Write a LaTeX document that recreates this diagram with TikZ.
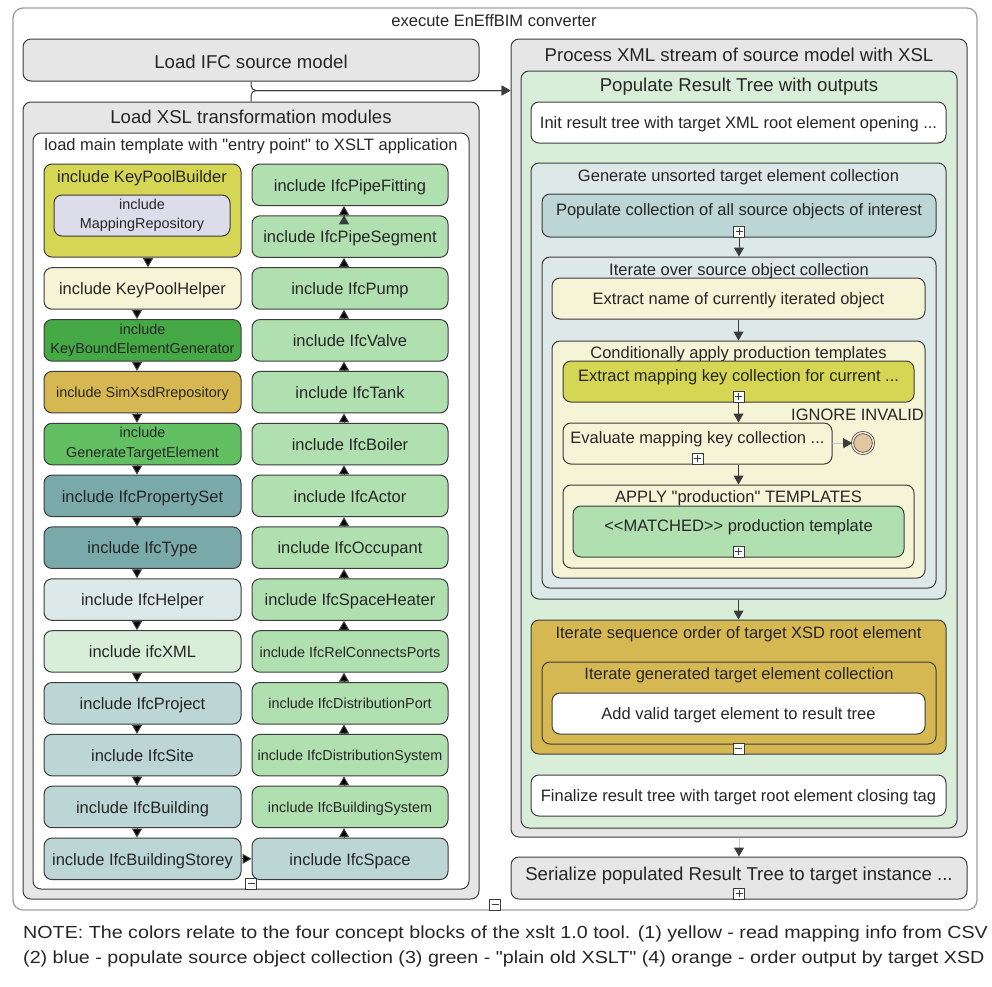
\documentclass[tikz,border=0pt]{standalone}
\usepackage{fontspec}
\setmainfont{Liberation Sans}[Ligatures=TeXOff]
\newfontfamily\notefont{Liberation Sans}[Ligatures=TeXOff, FakeStretch=1.125]
\usepackage{xcolor}
\usepackage{tikz}
\usetikzlibrary{arrows.meta}

\definecolor{boxline}{HTML}{3C3C3C}
\definecolor{outline}{HTML}{A0A0A0}
\definecolor{txt}{HTML}{262626}
\definecolor{greyfill}{HTML}{E6E6E6}
\definecolor{palegreen}{HTML}{D9EED9}
\definecolor{palebluegrey}{HTML}{DDE8E8}
\definecolor{bluegrey}{HTML}{BCD5D5}
\definecolor{tealbox}{HTML}{7AA9A9}
\definecolor{cream}{HTML}{F5F4D7}
\definecolor{mapyellow}{HTML}{D6D655}
\definecolor{lightgreen}{HTML}{B0DFB0}
\definecolor{darkgreen}{HTML}{45A945}
\definecolor{midgreen}{HTML}{62C063}
\definecolor{gold}{HTML}{D6B852}
\definecolor{lavender}{HTML}{DCDCEA}
\definecolor{endfill}{HTML}{E3C6A2}

\newcommand{\fbig}{\fontsize{18.6pt}{21pt}\selectfont}
\newcommand{\fmid}{\fontsize{16.5pt}{19pt}\selectfont}
\newcommand{\fsmall}{\fontsize{14.4pt}{19.5pt}\selectfont}
\newcommand{\fnote}{\notefont\fontsize{17.5pt}{20pt}\selectfont}

\begin{document}
\begin{tikzpicture}[x=1pt, y=-1pt]
\tikzstyle{box}=[draw=boxline, line width=1pt, rounded corners=8pt, inner sep=0pt, text=txt, align=center]
\tikzstyle{task}=[box, font=\fmid, text height=16pt, text depth=3.5pt]
\tikzstyle{plustask}=[box, font=\fmid, text height=12pt, text depth=11.2pt]
\tikzstyle{bigtask}=[box, font=\fbig, text height=21.3pt, text depth=4pt]
\tikzstyle{bigplustask}=[box, font=\fbig, text height=13.5pt, text depth=9.2pt]
\tikzstyle{smalltask}=[box, font=\fsmall, text height=14.3pt, text depth=3pt]
\tikzstyle{twoline}=[box, font=\fsmall]
\tikzstyle{title}=[inner sep=0pt, text=txt, font=\fmid, text height=12pt, text depth=3.5pt]
\tikzstyle{bigtitle}=[title, font=\fbig, text height=13.5pt, text depth=4pt]
\tikzstyle{leftcol}=[minimum width=197pt, minimum height=41.5pt]
\tikzstyle{rightcol}=[minimum width=196pt, minimum height=41.5pt]
\tikzstyle{flow}=[draw=boxline, line width=1pt, -{Triangle[width=10pt, length=9pt]}]
\tikzstyle{greyflow}=[draw=black!22, line width=1pt, -{Triangle[width=10pt, length=9pt, color=boxline]}]
\tikzstyle{plusbox}=[draw=boxline, fill=white, line width=0.8pt, minimum size=11pt, inner sep=0pt, anchor=south,
  path picture={\draw[line width=0.8pt] ([yshift=-2pt]path picture bounding box.north) -- ([yshift=2pt]path picture bounding box.south)
                ([xshift=2pt]path picture bounding box.west) -- ([xshift=-2pt]path picture bounding box.east);}]
\tikzstyle{minusbox}=[draw=boxline, fill=white, line width=0.8pt, minimum size=11pt, inner sep=0pt, anchor=south,
  path picture={\draw[line width=0.8pt] ([xshift=2pt]path picture bounding box.west) -- ([xshift=-2pt]path picture bounding box.east);}]
\tikzstyle{endevent}=[circle, draw=boxline, line width=0.7pt, double=endfill!45!white, double distance=1.5pt, fill=endfill, minimum size=21pt, inner sep=0pt]

\useasboundingbox (0,0) rectangle (992,986);

% outer process
\node[box, draw=outline, line width=1.3pt, rounded corners=10pt, fill=white, minimum width=964pt, minimum height=902pt] (conv) at (495,459) {};
\node[title] (convtitle) at (494,22.5) {execute EnEffBIM converter};

% left part
\node[bigtask, fill=greyfill, minimum width=456pt, minimum height=42pt] (ifc) at (251,60) {Load IFC source model};
\node[box, fill=greyfill, minimum width=456pt, minimum height=797pt] (xsl) at (251,500.5) {};
\node[bigtitle] (xsltitle) at (251,119) {Load XSL transformation modules};
\node[box, fill=white, minimum width=436pt, minimum height=756pt] (main) at (251,511) {};
\node[title] (maintitle) at (251,146.7) {load main template with "entry point" to XSLT application};

\node[box, fill=mapyellow, minimum width=197pt, minimum height=93pt] (kpb) at (142.5,210.5) {};
\node[title] (kpbtitle) at (142,178) {include KeyPoolBuilder};
\node[twoline, fill=lavender, minimum width=176pt, minimum height=41pt] (maprep) at (142,215.5) {include\\MappingRepository};
\node[task, leftcol, fill=cream] (kph) at (142.5,288.45) {include KeyPoolHelper};
\node[twoline, leftcol, fill=darkgreen] (keybound) at (142.5,340.3) {include\\KeyBoundElementGenerator};
\node[smalltask, leftcol, fill=gold] (simxsd) at (142.5,392.15) {include SimXsdRrepository};
\node[twoline, leftcol, fill=midgreen] (gentarget) at (142.5,444) {include\\GenerateTargetElement};
\node[task, leftcol, fill=tealbox] (pset) at (142.5,495.85) {include IfcPropertySet};
\node[task, leftcol, fill=tealbox] (ifctype) at (142.5,547.7) {include IfcType};
\node[task, leftcol, fill=palebluegrey] (helper) at (142.5,599.55) {include IfcHelper};
\node[task, leftcol, fill=palegreen] (ifcxml) at (142.5,651.4) {include ifcXML};
\node[task, leftcol, fill=bluegrey] (project) at (142.5,703.25) {include IfcProject};
\node[task, leftcol, fill=bluegrey] (site) at (142.5,755.1) {include IfcSite};
\node[task, leftcol, fill=bluegrey] (building) at (142.5,806.95) {include IfcBuilding};
\node[task, leftcol, fill=bluegrey] (storey) at (142.5,858.8) {include IfcBuildingStorey};

\node[task, rightcol, fill=lightgreen] (fitting) at (350,184.75) {include IfcPipeFitting};
\node[task, rightcol, fill=lightgreen] (segment) at (350,236.6) {include IfcPipeSegment};
\node[task, rightcol, fill=lightgreen] (pump) at (350,288.45) {include IfcPump};
\node[task, rightcol, fill=lightgreen] (valve) at (350,340.3) {include IfcValve};
\node[task, rightcol, fill=lightgreen] (tank) at (350,392.15) {include IfcTank};
\node[task, rightcol, fill=lightgreen] (boiler) at (350,444) {include IfcBoiler};
\node[task, rightcol, fill=lightgreen] (actor) at (350,495.85) {include IfcActor};
\node[task, rightcol, fill=lightgreen] (occupant) at (350,547.7) {include IfcOccupant};
\node[task, rightcol, fill=lightgreen] (heater) at (350,599.55) {include IfcSpaceHeater};
\node[smalltask, rightcol, fill=lightgreen] (relports) at (350,651.4) {include IfcRelConnectsPorts};
\node[smalltask, rightcol, fill=lightgreen] (distport) at (350,703.25) {include IfcDistributionPort};
\node[smalltask, rightcol, fill=lightgreen] (distsys) at (350,755.1) {include IfcDistributionSystem};
\node[smalltask, rightcol, fill=lightgreen] (bsys) at (350,806.95) {include IfcBuildingSystem};
\node[task, rightcol, fill=bluegrey] (space) at (350,858.8) {include IfcSpace};

\path[flow] ([xshift=5.5pt]kpb.south) edge ([xshift=5.5pt]kph.north)
            ([xshift=-5.5pt]kph.south) edge ([xshift=-5.5pt]keybound.north)
            ([xshift=-5.5pt]keybound.south) edge ([xshift=-5.5pt]simxsd.north)
            ([xshift=-5.5pt]simxsd.south) edge ([xshift=-5.5pt]gentarget.north)
            ([xshift=-5.5pt]gentarget.south) edge ([xshift=-5.5pt]pset.north)
            ([xshift=-5.5pt]pset.south) edge ([xshift=-5.5pt]ifctype.north)
            ([xshift=-5.5pt]ifctype.south) edge ([xshift=-5.5pt]helper.north)
            ([xshift=-5.5pt]helper.south) edge ([xshift=-5.5pt]ifcxml.north)
            ([xshift=-5.5pt]ifcxml.south) edge ([xshift=-5.5pt]project.north)
            ([xshift=-5.5pt]project.south) edge ([xshift=-5.5pt]site.north)
            ([xshift=-5.5pt]site.south) edge ([xshift=-5.5pt]building.north)
            ([xshift=-5.5pt]building.south) edge ([xshift=-5.5pt]storey.north)
            (storey.east) edge (space.west)
            ([xshift=-6pt]space.north) edge ([xshift=-6pt]bsys.south)
            ([xshift=-6pt]bsys.north) edge ([xshift=-6pt]distsys.south)
            ([xshift=-6pt]distsys.north) edge ([xshift=-6pt]distport.south)
            ([xshift=-6pt]distport.north) edge ([xshift=-6pt]relports.south)
            ([xshift=-6pt]relports.north) edge ([xshift=-6pt]heater.south)
            ([xshift=-6pt]heater.north) edge ([xshift=-6pt]occupant.south)
            ([xshift=-6pt]occupant.north) edge ([xshift=-6pt]actor.south)
            ([xshift=-6pt]actor.north) edge ([xshift=-6pt]boiler.south)
            ([xshift=-6pt]boiler.north) edge ([xshift=-6pt]tank.south)
            ([xshift=-6pt]tank.north) edge ([xshift=-6pt]valve.south)
            ([xshift=-6pt]valve.north) edge ([xshift=-6pt]pump.south)
            ([xshift=-6pt]pump.north) edge ([xshift=-6pt]segment.south)
            ([xshift=-6pt]segment.north) edge ([xshift=-6pt]fitting.south);
\node[minusbox] (mainmark) at (main.south) {};

% right part
\node[box, fill=greyfill, minimum width=456pt, minimum height=798pt] (proc) at (739,438) {};
\node[bigtitle] (proctitle) at (739,56.6) {Process XML stream of source model with XSL};
\node[box, fill=palegreen, minimum width=436pt, minimum height=757pt] (tree) at (739,449.5) {};
\node[bigtitle] (treetitle) at (739,87.2) {Populate Result Tree with outputs};
\node[task, fill=white, minimum width=415pt, minimum height=41pt] (init) at (738.5,122.5) {Init result tree with target XML root element opening ...};

\node[box, fill=palebluegrey, minimum width=415pt, minimum height=436pt] (gen) at (738.5,381) {};
\node[title] (gentitle) at (738.5,177.7) {Generate unsorted target element collection};
\node[plustask, fill=bluegrey, minimum width=394pt, minimum height=43pt] (popcol) at (739,215.5) {Populate collection of all source objects of interest};
\node[box, fill=palebluegrey, minimum width=394pt, minimum height=331pt] (iter) at (739,422.5) {};
\node[title] (itertitle) at (739,271.3) {Iterate over source object collection};
\node[task, fill=cream, minimum width=373pt, minimum height=41pt] (extname) at (738.5,298.5) {Extract name of currently iterated object};
\node[box, fill=cream, minimum width=373pt, minimum height=237pt] (cond) at (738.5,459.5) {};
\node[title] (condtitle) at (738.5,354) {Conditionally apply production templates};
\node[plustask, fill=mapyellow, minimum width=351pt, minimum height=41pt] (extkey) at (738.5,381.5) {Extract mapping key collection for current ...};
\node[plustask, fill=cream, minimum width=269pt, minimum height=41pt] (eval) at (697.5,443.5) {Evaluate mapping key collection ...};
\node[endevent] (ignore) at (863,443) {};
\node[title] (ignoretitle) at (857.5,415.9) {IGNORE INVALID};
\node[box, fill=cream, minimum width=351pt, minimum height=83pt] (apply) at (738.5,526.5) {};
\node[title] (applytitle) at (738.5,498.7) {APPLY "production" TEMPLATES};
\node[plustask, fill=lightgreen, minimum width=331pt, minimum height=51pt] (matched) at (738.5,531.5) {<<MATCHED>> production template};

\node[box, fill=gold, minimum width=415pt, minimum height=134pt] (seq) at (738.5,687) {};
\node[title] (seqtitle) at (738.5,634.2) {Iterate sequence order of target XSD root element};
\node[box, fill=gold, minimum width=394pt, minimum height=82pt] (itgen) at (739,703) {};
\node[title] (itgentitle) at (739,675) {Iterate generated target element collection};
\node[task, fill=white, minimum width=373pt, minimum height=41pt] (addvalid) at (738.5,713.5) {Add valid target element to result tree};
\node[task, fill=white, minimum width=415pt, minimum height=41pt] (final) at (738.5,795.5) {Finalize result tree with target root element closing tag};

\node[bigplustask, fill=greyfill, minimum width=456pt, minimum height=42pt] (serial) at (739,878) {Serialize populated Result Tree to target instance ...};

\node[plusbox] (popcolmark) at (popcol.south) {};
\node[plusbox] (extkeymark) at (extkey.south) {};
\node[plusbox] (evalmark) at (eval.south) {};
\node[plusbox] (matchedmark) at (matched.south) {};
\node[plusbox] (serialmark) at (serial.south) {};
\node[minusbox] (seqmark) at (seq.south) {};
\node[minusbox] (convmark) at (conv.south) {};

% sequence flows
\coordinate (procin) at ([yshift=-52pt]proc.north west);
\draw[flow, rounded corners=5pt] (ifc.south) |- (procin);
\draw[flow, rounded corners=5pt] (xsl.north) |- (procin);
\draw[flow] (popcol.south) -- (iter.north);
\draw[flow] (extname.south) -- (cond.north);
\draw[flow] (extkey.south) -- (extkey.south |- eval.north);
\draw[flow] (apply.north |- eval.south) -- (apply.north);
\draw[greyflow] (eval.east) -- (ignore.west);
\draw[flow] (gen.south) -- (seq.north);
\draw[greyflow] (proc.south) -- (serial.north);

% note
\node[anchor=base west, inner sep=0pt, font=\fnote, text=txt] (note1) at (23,938) {NOTE: The colors relate to the four concept blocks of the xslt 1.0 tool. (1) yellow - read mapping info from CSV};
\node[anchor=base west, inner sep=0pt, font=\fnote, text=txt] (note2) at (23,963) {(2) blue - populate source object collection (3) green - "plain old XSLT" (4) orange - order output by target XSD};

\end{tikzpicture}
\end{document}
